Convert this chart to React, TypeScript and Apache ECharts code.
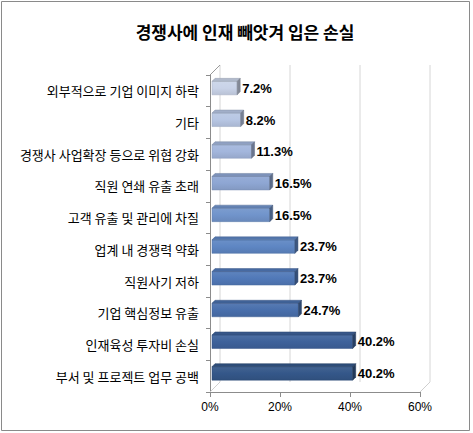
import React, { useEffect, useRef } from "react";
import * as echarts from "echarts";

const TITLE = "경쟁사에 인재 빼앗겨 입은 손실";
const categories = [
  "외부적으로 기업 이미지 하락",
  "기타",
  "경쟁사 사업확장 등으로 위협 강화",
  "직원 연쇄 유출 초래",
  "고객 유출 및 관리에 차질",
  "업계 내 경쟁력 약화",
  "직원사기 저하",
  "기업 핵심정보 유출",
  "인재육성 투자비 손실",
  "부서 및 프로젝트 업무 공백",
];
const values = [7.2, 8.2, 11.3, 16.5, 16.5, 23.7, 23.7, 24.7, 40.2, 40.2];
const xTicks = [0, 20, 40, 60];
const barColors = [
  "#c9d3e8",
  "#b7c6e3",
  "#a3b6dc",
  "#8ea6d3",
  "#7194cb",
  "#5e86c3",
  "#5179b8",
  "#496fac",
  "#3e629b",
  "#345789",
];

function shade(hex: string, f: number): string {
  const n = parseInt(hex.slice(1), 16);
  let r = (n >> 16) & 255, g = (n >> 8) & 255, b = n & 255;
  if (f < 0) {
    r = Math.round(r * (1 + f)); g = Math.round(g * (1 + f)); b = Math.round(b * (1 + f));
  } else {
    r = Math.round(r + (255 - r) * f); g = Math.round(g + (255 - g) * f); b = Math.round(b + (255 - b) * f);
  }
  return "#" + ((1 << 24) + (r << 16) + (g << 8) + b).toString(16).slice(1);
}

export default function App() {
  const ref = useRef<HTMLDivElement>(null);
  useEffect(() => {
    if (!ref.current) return;
    const chart = echarts.init(ref.current, null, { renderer: "svg" });
    const depth = 10;
    const xMax = xTicks[xTicks.length - 1];
    chart.setOption({
      animation: false,
      backgroundColor: "#ffffff",
      grid: { left: 210, top: 75, width: 210, height: 317, containLabel: false },
      xAxis: {
        type: "value",
        min: 0,
        max: xMax,
        interval: 20,
        axisLine: { show: true, lineStyle: { color: "#8c8c8c", width: 1 } },
        axisTick: { show: true, length: 5, lineStyle: { color: "#8c8c8c" } },
        splitLine: { show: false },
        axisLabel: {
          formatter: "{value}%",
          color: "#000",
          fontSize: 12,
          fontFamily: '"Liberation Sans", Arial, sans-serif',
          margin: 9,
        },
      },
      yAxis: {
        type: "category",
        inverse: true,
        data: categories,
        axisLine: { show: true, lineStyle: { color: "#8c8c8c", width: 1 } },
        axisTick: { show: true, length: 4, lineStyle: { color: "#8c8c8c" } },
        axisLabel: {
          color: "#000",
          fontSize: 13,
          fontFamily: '"Noto Sans CJK KR", sans-serif',
          margin: 11,
        },
      },
      graphic: [
        {
          type: "rect",
          shape: { x: 1.5, y: 1.5, width: 468, height: 429 },
          style: { fill: "none", stroke: "#8a8a8a", lineWidth: 1 },
          silent: true,
        },
        {
          type: "text",
          x: 245,
          y: 31,
          style: {
            text: TITLE,
            fill: "#000",
            font: 'bold 17px "Noto Sans CJK KR", sans-serif',
            align: "center",
            verticalAlign: "middle",
          },
          silent: true,
        },
      ],
      series: [
        {
          type: "custom",
          name: "wall",
          silent: true,
          clip: false,
          z: 1,
          data: xTicks.map((v) => [v, 0]),
          encode: { x: 0, y: 1 },
          renderItem: (params: any, api: any) => {
            const v = api.value(0);
            const cs = params.coordSys;
            const px = api.coord([v, 0])[0];
            const top = cs.y;
            const bottom = cs.y + cs.height;
            const children: any[] = [
              {
                type: "line",
                shape: { x1: px + depth, y1: top - depth, x2: px + depth, y2: bottom - depth },
                style: { stroke: "#d6d6d6", lineWidth: 1 },
              },
            ];
            if (v === 0) {
              children.push({
                type: "line",
                shape: { x1: px, y1: top, x2: px + depth, y2: top - depth },
                style: { stroke: "#9a9a9a", lineWidth: 1 },
              });
            }
            if (v === 0 || v === xMax) {
              children.push({
                type: "line",
                shape: { x1: px, y1: bottom, x2: px + depth, y2: bottom - depth },
                style: { stroke: "#cfcfcf", lineWidth: 1 },
              });
            }
            return { type: "group", children };
          },
        },
        {
          type: "custom",
          name: "bars",
          silent: true,
          clip: false,
          z: 2,
          data: values.map((v, i) => [v, i]),
          encode: { x: 0, y: 1 },
          renderItem: (params: any, api: any) => {
            const v = api.value(0);
            const i = api.value(1);
            const p0 = api.coord([0, i]);
            const p1 = api.coord([v, i]);
            const cy = p0[1];
            const x0 = p0[0] + 2;
            const x1 = p1[0] + 2;
            const t = cy - 9.5;
            const b = cy + 4;
            const d = 3;
            const c = barColors[i];
            return {
              type: "group",
              children: [
                {
                  type: "rect",
                  shape: { x: x0, y: t, width: x1 - x0, height: b - t },
                  style: {
                    fill: new echarts.graphic.LinearGradient(0, 0, 0, 1, [
                      { offset: 0, color: shade(c, 0.08) },
                      { offset: 0.5, color: c },
                      { offset: 1, color: shade(c, -0.08) },
                    ]),
                    stroke: shade(c, -0.15),
                    lineWidth: 0.5,
                  },
                },
                {
                  type: "polygon",
                  shape: { points: [[x0, t], [x1, t], [x1 + d, t - d], [x0 + d, t - d]] },
                  style: { fill: shade(c, -0.12), stroke: shade(c, -0.25), lineWidth: 0.5 },
                },
                {
                  type: "polygon",
                  shape: { points: [[x1, t], [x1 + d, t - d], [x1 + d, b - d], [x1, b]] },
                  style: { fill: shade(c, -0.35), stroke: shade(c, -0.4), lineWidth: 0.5 },
                },
                {
                  type: "text",
                  x: x1 + d + 2,
                  y: cy - 2.5,
                  style: {
                    text: v.toFixed(1) + "%",
                    fill: "#000",
                    font: 'bold 13px "Liberation Sans", Arial, sans-serif',
                    align: "left",
                    verticalAlign: "middle",
                  },
                },
              ],
            };
          },
        },
      ],
    });
    return () => chart.dispose();
  }, []);
  return (
    <div
      ref={ref}
      style={{ position: "fixed", left: 0, top: 0, width: 473, height: 433, background: "#fff" }}
    />
  );
}
